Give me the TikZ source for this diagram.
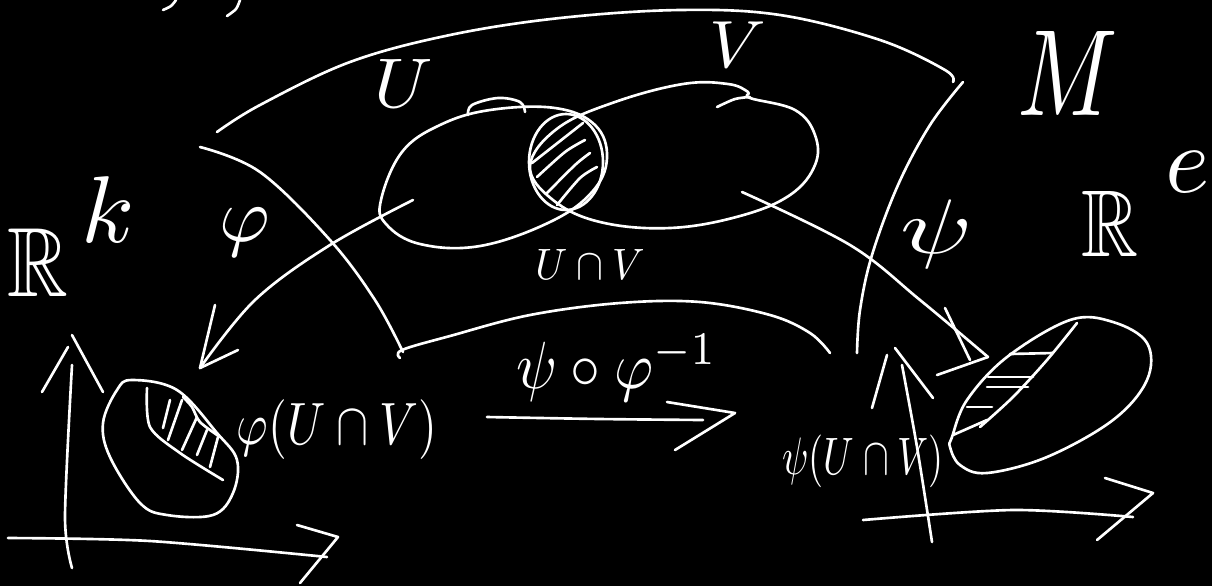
\documentclass[tikz,border=0pt]{standalone}
\usepackage{amssymb}
\newcommand{\sz}[3]{\scalebox{#1}[#2]{#3}}
\begin{document}
\begin{tikzpicture}[x=0.02cm,y=-0.02cm,
  ink/.style={draw=white,line width=1.5pt,line cap=round,line join=round},
  lbl/.style={text=white,inner sep=0pt}]
\fill[black] (0,0) rectangle (1212,586);
\useasboundingbox (0,0) rectangle (1212,586);
% top fragments
\draw[ink] plot[smooth] coordinates {(163,10) (171,6) (176,0)};
\draw[ink] plot[smooth] coordinates {(227,16) (236,9) (240,0)};
% manifold region M
\draw[ink] plot[smooth,tension=0.6] coordinates {(217,132) (260,105) (350,62) (450,35) (560,18) (680,10) (780,15) (880,40) (945,70) (953,82)};
\draw[ink] plot[smooth,tension=0.6] coordinates {(200,147) (260,172) (330,240) (375,300) (403,352)};
\draw[ink] plot[smooth,tension=0.6] coordinates {(400,358) (402,350) (450,336) (530,315) (620,303) (700,302) (770,315) (810,333) (830,353)};
\draw[ink] plot[smooth,tension=0.6] coordinates {(963,82) (930,125) (898,185) (872,255) (860,310) (857,353)};
% U ellipse
\draw[ink] plot[smooth cycle,tension=0.65] coordinates {(381,200) (402,152) (440,125) (490,110) (555,108) (595,125) (607,158) (592,192) (550,222) (480,246) (420,244) (386,224)};
\draw[ink] plot[smooth,tension=0.6] coordinates {(468,115) (472,105) (498,98) (520,102) (525,112)};
% V ellipse
\draw[ink] plot[smooth cycle,tension=0.65] coordinates {(530,166) (558,128) (615,102) (683,84) (728,84) (748,92) (750,98) (795,110) (815,135) (815,165) (790,195) (740,216) (670,228) (600,222) (553,200)};
\draw[ink] plot[smooth] coordinates {(717,107) (735,99) (750,97)};
% hatched intersection
\draw[ink] (566,162) ellipse[x radius=37,y radius=48];
\draw[ink] (532,163) -- (583,123);
\draw[ink] plot[smooth] coordinates {(537,177) (565,152) (585,140)};
\draw[ink] plot[smooth] coordinates {(547,193) (575,165) (590,153)};
\draw[ink] plot[smooth] coordinates {(557,205) (580,178) (597,167)};
% labels in M
\node[lbl] (lU) at (404,83) {\sz{4.2}{4}{$U$}};
\node[lbl] (lV) at (738,45) {\sz{4}{3.8}{$V$}};
\node[lbl] (lUV) at (590,264) {\sz{2.3}{2.5}{$U\cap V$}};
\node[lbl] (lM) at (1068,73) {\sz{5.3}{7}{$M$}};
% phi arrow
\coordinate (phiS) at (413,200);
\coordinate (phiT) at (200,368);
\draw[ink] plot[smooth,tension=0.6] coordinates {(phiS) (330,245) (255,300) (phiT)};
\draw[ink] (215,305) -- (phiT) -- (238,350);
\node[lbl] (lphi) at (245,232) {\sz{4.4}{4.4}{$\varphi$}};
% psi arrow
\coordinate (psiS) at (742,192);
\coordinate (psiT) at (988,357);
\draw[ink] plot[smooth,tension=0.6] coordinates {(psiS) (850,245) (920,300) (psiT)};
\draw[ink] (945,308) -- (970,360);
\draw[ink] (937,375) -- (psiT);
\node[lbl] (lpsi) at (937,234) {\sz{6}{4.4}{$\psi$}};
% R^k
\node[lbl] (lRk) at (38,263) {\sz{4.8}{5.6}{$\mathbb{R}$}};
\node[lbl] (lk) at (108,210) {\sz{5.5}{5.4}{$k$}};
% R^e
\node[lbl] (lRl) at (1110,224) {\sz{4.5}{5.4}{$\mathbb{R}$}};
\node[lbl] (le) at (1188,172) {\sz{5.4}{5.4}{$e$}};
% transition arrow
\coordinate (tS) at (487,417);
\coordinate (tT) at (735,413);
\draw[ink] plot[smooth] coordinates {(tS) (600,419) (703,420)};
\draw[ink] (667,402) -- (tT) -- (675,450);
\node[lbl] (ltr) at (617,368) {\sz{3.4}{3.8}{$\psi\circ\varphi^{-1}$}};
% left axes
\draw[ink] plot[smooth] coordinates {(72,365) (65,517) (72,568)};
\draw[ink] (42,392) -- (68,347);
\draw[ink] (72,335) -- (103,392);
\draw[ink] plot[smooth] coordinates {(8,538) (150,541) (327,557)};
\draw[ink] (297,525) -- (338,537) -- (300,583);
% left blob
\draw[ink] plot[smooth cycle,tension=0.6] coordinates {(132,380) (177,390) (217,433) (237,460) (233,493) (213,515) (167,515) (140,503) (110,457) (103,423) (117,390)};
\draw[ink] plot[smooth] coordinates {(147,388) (150,427) (180,453) (223,480)};
\draw[ink] plot[smooth] coordinates {(183,397) (192,407) (200,422) (220,437)};
\draw[ink] (163,428) -- (170,400);
\draw[ink] (168,440) -- (182,400);
\draw[ink] (182,450) -- (197,417);
\draw[ink] (197,455) -- (207,430);
\draw[ink] (210,467) -- (218,437);
\node[lbl] (lphiUV) at (337,430) {\sz{2.75}{3.4}{$\varphi(U\cap V)$}};
% right axes
\draw[ink] plot[smooth] coordinates {(902,365) (917,447) (932,542)};
\draw[ink] (872,408) -- (887,355);
\draw[ink] (895,348) -- (933,398);
\draw[ink] plot[smooth] coordinates {(863,520) (1013,510) (1133,517)};
\draw[ink] (1105,478) -- (1153,493) -- (1097,540);
% right blob
\draw[ink] plot[smooth cycle,tension=0.6] coordinates {(952,437) (967,400) (1007,357) (1070,320) (1113,322) (1147,343) (1147,380) (1113,420) (1047,457) (987,473) (960,465) (950,447)};
\draw[ink] plot[smooth] coordinates {(1077,323) (1047,360) (1013,397) (980,427)};
\draw[ink] (953,435) -- (987,420);
\draw[ink] (1010,354) -- (1053,353);
\draw[ink] (988,377) -- (1033,377);
\draw[ink] (987,387) -- (1028,387);
\draw[ink] (967,407) -- (992,407);
\node[lbl] (lpsiUV) at (863,461) {\sz{2.2}{3}{$\psi(U\cap V)$}};
\end{tikzpicture}
\end{document}
